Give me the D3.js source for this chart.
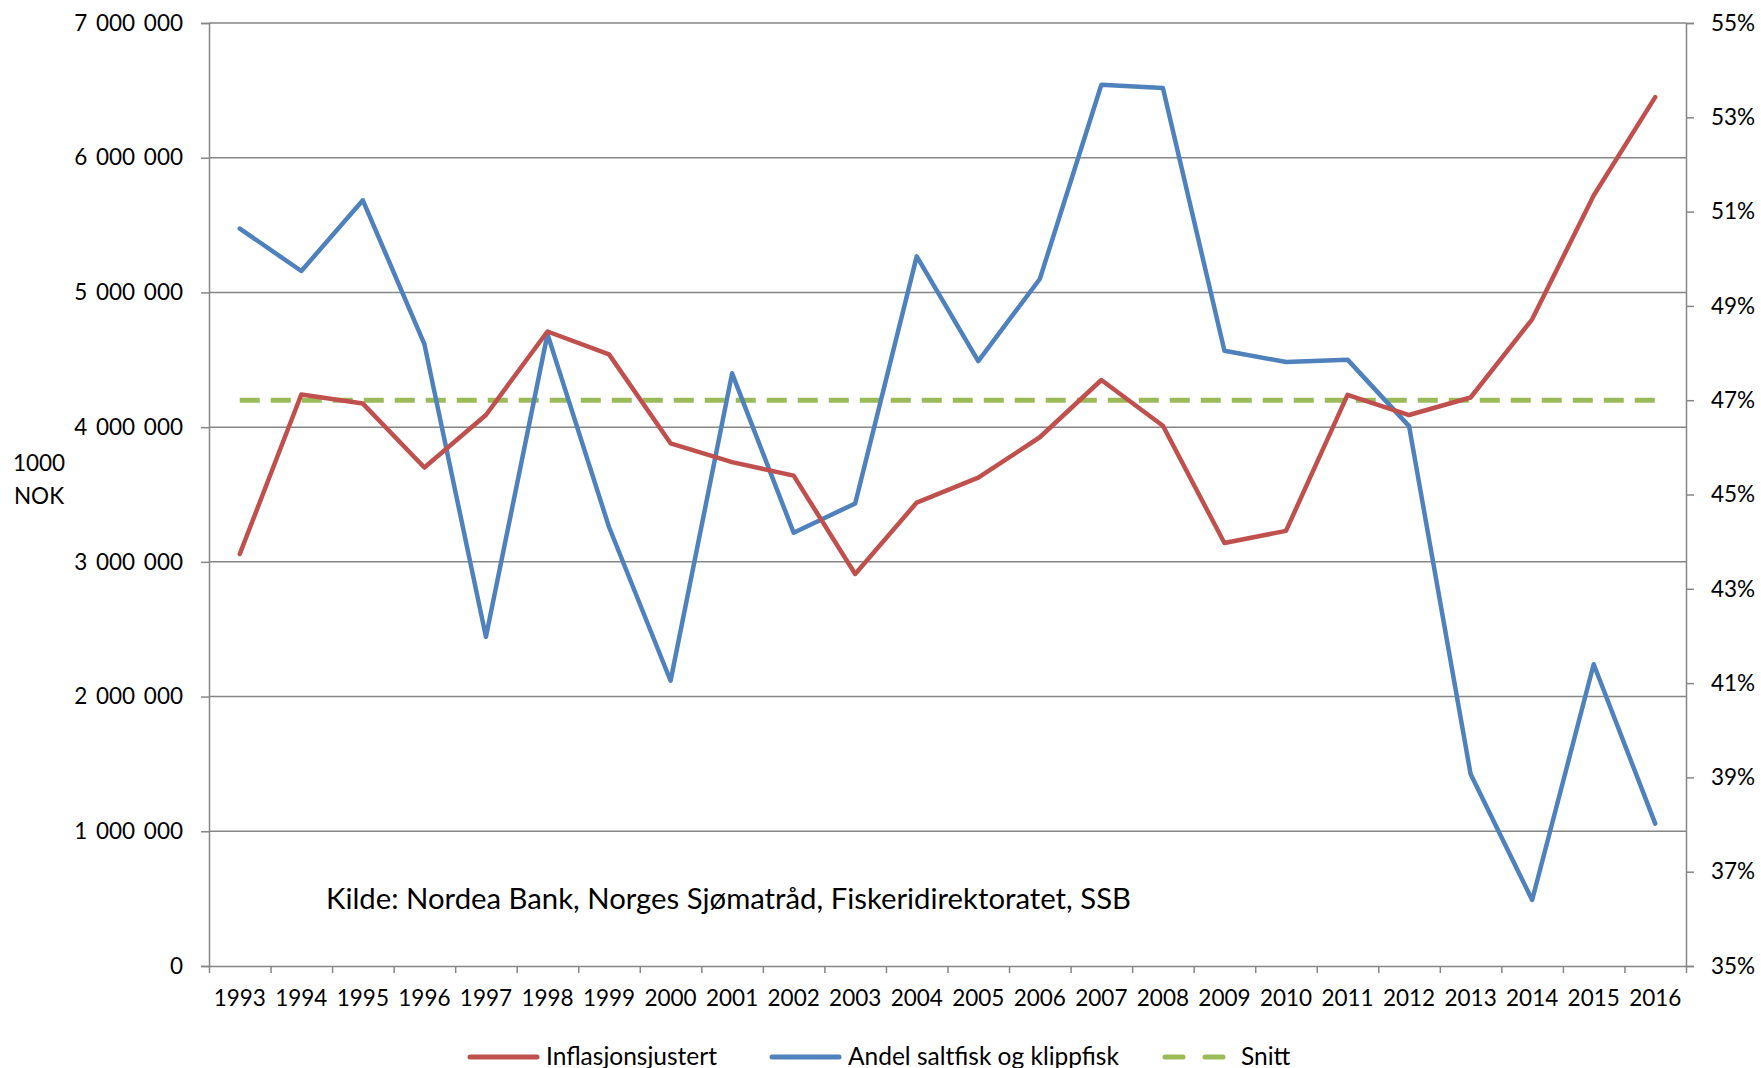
<!DOCTYPE html>
<html><head><meta charset="utf-8">
<script src="https://cdn.jsdelivr.net/npm/d3@7"></script>
<style>
body{margin:0;background:#fff;}
text{font-family:Lato, "Open Sans", sans-serif;fill:#000;}
</style></head>
<body><svg id="c" width="1761" height="1068"></svg>
<script>
const years = ["1993","1994","1995","1996","1997","1998","1999","2000","2001","2002","2003","2004","2005","2006","2007","2008","2009","2010","2011","2012","2013","2014","2015","2016"];
const inflasjonsjustert = [3058000,4242000,4175000,3700000,4090000,4710000,4540000,3880000,3740000,3640000,2910000,3440000,3625000,3925000,4350000,4010000,3140000,3230000,4240000,4090000,4220000,4800000,5720000,6450000];
const andelSaltfisk = [50.64,49.74,51.24,48.19,41.98,48.40,44.31,41.05,47.57,44.19,44.81,50.05,47.83,49.57,53.69,53.62,48.05,47.81,47.86,46.45,39.07,36.40,41.40,38.02];
const snitt = [47,47,47,47,47,47,47,47,47,47,47,47,47,47,47,47,47,47,47,47,47,47,47,47];
const leftTicks = [0,1000000,2000000,3000000,4000000,5000000,6000000,7000000];
const rightTicks = [35,37,39,41,43,45,47,49,51,53,55];
const seriesNames = ["Inflasjonsjustert","Andel saltfisk og klippfisk","Snitt"];
const sourceText = "Kilde: Nordea Bank, Norges Sjømatråd, Fiskeridirektoratet, SSB";
const yTitle = ["1000","NOK"];

const L=209,R=1686,T=23,B=966;
const svg=d3.select("#c");
const x=d3.scaleBand().domain(years).range([L,R]).padding(0);
const xEdge=d3.scaleLinear().domain([0,years.length]).range([L,R]);
const yL=d3.scaleLinear().domain([0,7000000]).range([B,T]);
const yR=d3.scaleLinear().domain([35,55]).range([B,T]);
const cx=d=>x(d)+x.bandwidth()/2;
const grid="#868686";
const fmt=v=>d3.format(",")(v).replace(/,/g," ");
const FS=22.5;

// gridlines
svg.append("g").selectAll("line").data(leftTicks.filter(v=>v>0)).join("line")
 .attr("x1",L).attr("x2",R).attr("y1",d=>yL(d)).attr("y2",d=>yL(d))
 .attr("stroke",grid).attr("stroke-width",1.5);

// left axis
const gl=svg.append("g").attr("transform",`translate(${L},0)`)
 .call(d3.axisLeft(yL).tickValues(leftTicks).tickFormat(fmt).tickSize(8).tickPadding(18));
gl.selectAll("path,line").attr("stroke",grid).attr("stroke-width",1.5);
gl.selectAll("text").attr("font-size",FS).attr("font-family","Lato").style("word-spacing","3px");

// right axis
const gr=svg.append("g").attr("transform",`translate(${R},0)`)
 .call(d3.axisRight(yR).tickValues(rightTicks).tickFormat(d=>d+"%").tickSize(8).tickPadding(17));
gr.selectAll("path,line").attr("stroke",grid).attr("stroke-width",1.5);
gr.selectAll("text").attr("font-size",FS).attr("font-family","Lato");

// bottom axis: ticks at band edges
const gbTicks=svg.append("g").attr("transform",`translate(0,${B})`)
 .call(d3.axisBottom(xEdge).tickValues(d3.range(0,years.length+1)).tickFormat("").tickSize(7).tickSizeOuter(0));
gbTicks.selectAll("path,line").attr("stroke",grid).attr("stroke-width",1.5);
const gb=svg.append("g").attr("transform",`translate(0,${B})`)
 .call(d3.axisBottom(x).tickSize(0).tickPadding(24));
gb.select("path").remove();
gb.selectAll("text").attr("font-size",FS).attr("font-family","Lato");

// y title
svg.append("text").attr("x",39).attr("y",471).attr("text-anchor","middle").attr("font-size",FS).text(yTitle[0]);
svg.append("text").attr("x",39).attr("y",504).attr("text-anchor","middle").attr("font-size",FS).text(yTitle[1]);

// lines
const lineL=d3.line().x((d,i)=>cx(years[i])).y(d=>yL(d));
const lineR=d3.line().x((d,i)=>cx(years[i])).y(d=>yR(d));
svg.append("path").datum(snitt).attr("d",lineR).attr("fill","none").attr("stroke","#9BBB59").attr("stroke-width",5).attr("stroke-dasharray","20,11");
svg.append("path").datum(andelSaltfisk).attr("d",lineR).attr("fill","none").attr("stroke","#4F81BD").attr("stroke-width",4.5).attr("stroke-linejoin","round").attr("stroke-linecap","round");
svg.append("path").datum(inflasjonsjustert).attr("d",lineL).attr("fill","none").attr("stroke","#C0504D").attr("stroke-width",4.5).attr("stroke-linejoin","round").attr("stroke-linecap","round");

// source
svg.append("text").attr("x",326).attr("y",909).attr("font-size",29.3).text(sourceText);

// legend
const leg=[{x:470,c:"#C0504D",dash:null},{x:772,c:"#4F81BD",dash:null},{x:1165,c:"#9BBB59",dash:"18,22"}];
leg.forEach((l,i)=>{
 svg.append("line").attr("x1",l.x).attr("x2",l.x+67).attr("y1",1057).attr("y2",1057)
  .attr("stroke",l.c).attr("stroke-width",5).attr("stroke-linecap","round").attr("stroke-dasharray",l.dash);
 svg.append("text").attr("x",l.x+76).attr("y",1065).attr("font-size",24.5).text(seriesNames[i]);
});
</script></body></html>
